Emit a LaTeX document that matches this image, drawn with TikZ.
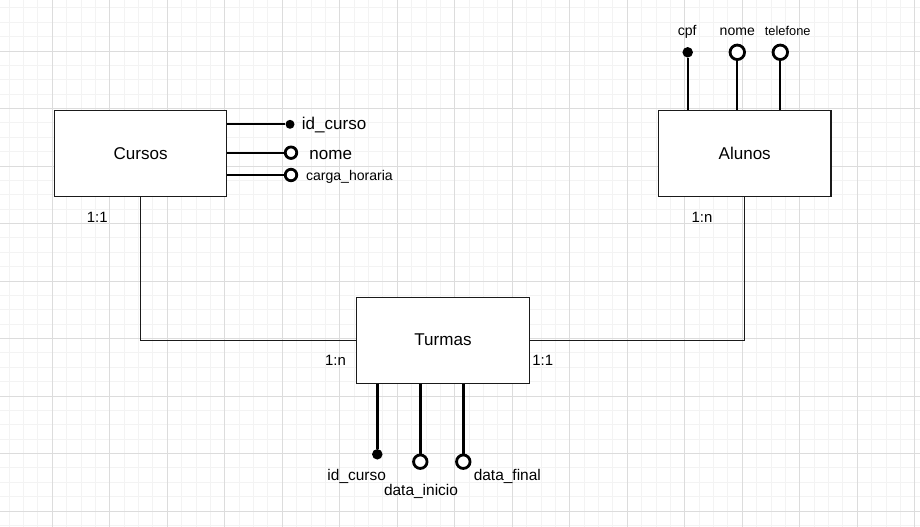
\documentclass[tikz,border=0pt]{standalone}
\usepackage{fontspec}
\setmainfont{Liberation Sans}
\usetikzlibrary{positioning}
\definecolor{gridminor}{HTML}{F3F3F3}
\definecolor{gridmajor}{HTML}{DCDCDC}
\definecolor{inkline}{HTML}{1A1A1A}

\begin{document}
\begin{tikzpicture}[x=0.02cm,y=-0.02cm,
 entity/.style={draw=inkline,line width=0.75pt,fill=white,minimum width=3.45cm,minimum height=1.72cm,inner sep=0pt,font=\fontsize{9.7}{11}\selectfont},
 conn/.style={draw=inkline,line width=0.75pt},
 pkdot/.style={circle,fill=black,inner sep=0pt,minimum size=#1},
 attcirc/.style={circle,draw=black,line width=1.6pt,fill=white,inner sep=0pt,minimum size=#1},
 txt/.style={inner sep=0pt,font=\fontsize{#1}{12}\selectfont}]
 \useasboundingbox (0,0) rectangle (920,527);
 \fill[white] (0,0) rectangle (920,527);
 \foreach \i in {0,...,63} \draw[gridminor,line width=0.55pt] ({9.175+14.375*\i},0) -- ++(0,527);
 \foreach \j in {0,...,36} \draw[gridminor,line width=0.55pt] (0,{7.875+14.375*\j}) -- ++(920,0);
 \foreach \i in {0,...,15} \draw[gridmajor,line width=0.55pt] ({52.3+57.5*\i},0) -- ++(0,527);
 \foreach \j in {0,...,8} \draw[gridmajor,line width=0.55pt] (0,{51+57.5*\j}) -- ++(920,0);

 \node[entity] (cursos) at (140.6,153.5) {Cursos};
 \node[entity] (alunos) at (744.7,153.4) {Alunos};
 \node[entity] (turmas) at (443,340.2) {Turmas};
 \draw[conn] (cursos.south) |- (turmas.west);
 \draw[conn] (alunos.south) |- (turmas.east);

 \node[pkdot=0.18cm] (c_id) at (290,124.3) {};
 \node[attcirc=0.23cm] (c_nome) at (291,152.7) {};
 \node[attcirc=0.23cm] (c_carga) at (291,175) {};
 \draw[line width=1.1pt] (cursos.east |- c_id) -- (c_id);
 \draw[line width=1.1pt] (cursos.east |- c_nome) -- (c_nome);
 \draw[line width=1.1pt] (cursos.east |- c_carga) -- (c_carga);
 \node[txt=9.7,anchor=base west] (l_cid) at (301.5,129.3) {id\_curso};
 \node[txt=9.7,anchor=base west] (l_cnome) at (309,159) {nome};
 \node[txt=8,anchor=base west] (l_ccarga) at (305.7,180) {carga\_horaria};

 \node[pkdot=0.21cm] (a_cpf) at (687.7,52.3) {};
 \node[attcirc=0.29cm] (a_nome) at (737.3,52.3) {};
 \node[attcirc=0.29cm] (a_tel) at (780.3,52.3) {};
 \draw[line width=0.95pt] (a_cpf |- alunos.north) -- (a_cpf);
 \draw[line width=0.95pt] (a_nome |- alunos.north) -- (a_nome);
 \draw[line width=0.95pt] (a_tel |- alunos.north) -- (a_tel);
 \node[txt=8,anchor=base] (l_acpf) at (687.2,36) {cpf};
 \node[txt=8,anchor=base] (l_anome) at (737.3,36) {nome};
 \node[txt=7.3,anchor=base] (l_atel) at (787.7,36) {telefone};

 \node[pkdot=0.21cm] (t_id) at (377.3,454.3) {};
 \node[attcirc=0.27cm] (t_ini) at (420.3,461.7) {};
 \node[attcirc=0.27cm] (t_fim) at (463.3,461.7) {};
 \draw[line width=1.9pt] (turmas.south -| t_id) -- (t_id);
 \draw[line width=1.9pt] (turmas.south -| t_ini) -- (t_ini);
 \draw[line width=1.9pt] (turmas.south -| t_fim) -- (t_fim);
 \node[txt=8.8,anchor=base] (l_tid) at (356.7,480.7) {id\_curso};
 \node[txt=8.8,anchor=base] (l_tini) at (421,495.7) {data\_inicio};
 \node[txt=8.8,anchor=base] (l_tfim) at (507.3,480.7) {data\_final};

 \node[txt=8.5,anchor=base] (card_c) at (97.3,222.7) {1:1};
 \node[txt=8.5,anchor=base] (card_a) at (702,222.3) {1:n};
 \node[txt=8.5,anchor=base] (card_tl) at (335.5,365.3) {1:n};
 \node[txt=8.5,anchor=base] (card_tr) at (542.8,365.3) {1:1};
\end{tikzpicture}
\end{document}
